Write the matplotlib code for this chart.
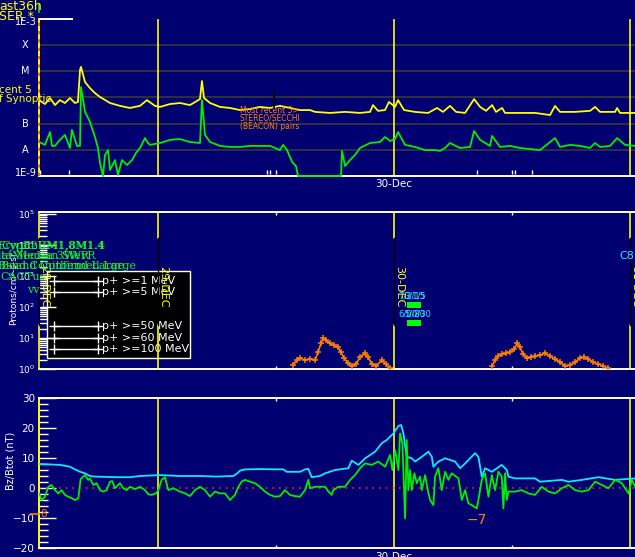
import matplotlib
matplotlib.use('Agg')
import matplotlib.pyplot as plt
import matplotlib.transforms as mtransforms
from matplotlib.patches import Rectangle
from matplotlib.lines import Line2D
import numpy as np

# ---------------- data (time in hours from 29-Dec 00:00) ----------------
t_start, t_end = -12.1, 48.5
day_hours = [0, 24, 48]
day_labels = ['29-DEC', '30-DEC', '31-DEC']
half_day_ticks = [12, 36]

# GOES X-ray, long channel (log10 W/m^2)
xl_t = [-12.10, -11.49, -10.98, -10.47, -9.97, -9.46, -8.95, -8.44, -8.14, -7.93, -7.83, -7.42,
        -6.92, -6.41, -5.90, -4.88, -3.86, -2.85, -1.83, -1.12, -0.31, 0.20, 1.22, 2.24, 3.25,
        4.27, 4.47, 4.68, 5.29, 6.31, 7.32, 8.34, 9.36, 10.37, 11.39, 12.41, 13.42, 14.44, 15.46,
        15.97, 17.49, 19.02, 20.54, 21.56, 21.86, 22.37, 23.08, 23.49, 24.10, 24.41, 25.02, 26.13,
        27.46, 28.37, 28.98, 29.69, 30.31, 31.22, 32.14, 32.75, 33.36, 33.97, 34.37, 34.98, 35.29,
        36.51, 38.34, 39.86, 40.37, 40.88, 42.41, 43.93, 44.44, 44.95, 46.47, 46.68, 46.98, 48.51]
xl_v = [-6.10, -6.25, -6.02, -6.29, -6.10, -6.21, -6.02, -6.21, -6.17, -4.95, -4.83, -5.41,
        -5.64, -5.83, -5.98, -6.21, -6.32, -6.40, -6.32, -6.10, -6.32, -6.36, -6.25, -6.21, -6.29,
        -6.06, -5.37, -6.02, -6.21, -6.36, -6.40, -6.48, -6.44, -6.36, -6.40, -6.32, -6.40, -6.48, -6.48,
        -6.55, -6.59, -6.55, -6.59, -6.55, -6.29, -6.51, -6.48, -6.17, -6.36, -6.10, -6.48, -6.55,
        -6.59, -6.40, -6.55, -6.32, -6.55, -6.59, -6.06, -6.36, -6.51, -6.29, -6.55, -6.40, -6.59,
        -6.59, -6.59, -6.67, -6.32, -6.55, -6.55, -6.51, -6.36, -6.55, -6.55, -6.40, -6.59, -6.59]

# GOES X-ray, short channel (log10 W/m^2)
xs_t = [-12.10, -11.49, -10.98, -10.78, -10.47, -9.97, -9.46, -8.95, -8.75, -8.24, -7.93, -7.83,
        -7.42, -6.92, -6.41, -6.10, -5.90, -5.59, -5.39, -5.08, -4.88, -4.37, -4.07, -3.66, -3.15,
        -2.64, -2.24, -1.83, -1.32, -1.02, -0.81, 0.20, 1.22, 2.24, 3.25, 4.27, 4.47, 4.78, 5.29,
        6.31, 7.32, 8.34, 9.36, 10.37, 11.39, 12.41, 12.71, 13.12, 13.63, 14.03, 14.24, 18.61,
        18.71, 19.02, 19.52, 20.03, 20.54, 21.56, 22.58, 23.08, 23.59, 24.10, 24.41, 25.12, 26.13,
        27.15, 28.17, 28.68, 29.19, 29.69, 30.71, 31.73, 32.14, 32.75, 33.76, 33.97, 34.78, 35.80,
        36.81, 37.83, 38.85, 40.37, 40.88, 41.90, 42.91, 43.93, 44.44, 44.95, 45.97, 46.68, 47.49, 48.51]
xs_v = [-7.70, -7.81, -7.32, -7.85, -7.85, -7.62, -7.43, -7.93, -7.24, -7.85, -7.85, -5.60,
        -6.55, -6.93, -7.51, -7.93, -8.50, -9.00, -8.20, -8.01, -8.77, -8.39, -8.96, -8.39, -8.58,
        -8.39, -8.12, -7.93, -7.55, -7.74, -7.81, -7.74, -7.62, -7.59, -7.70, -7.74, -6.10, -7.43, -7.70,
        -7.85, -7.89, -7.89, -7.85, -7.85, -7.85, -8.01, -7.81, -8.01, -8.46, -8.62, -9.00, -9.00,
        -8.04, -8.62, -8.39, -8.20, -7.93, -7.74, -7.70, -7.51, -7.66, -7.59, -7.32, -7.81, -7.89,
        -8.01, -8.01, -8.04, -7.93, -7.74, -7.93, -7.89, -7.28, -7.62, -7.85, -7.47, -7.89, -7.85,
        -7.93, -7.97, -8.01, -7.55, -7.89, -7.81, -7.85, -7.93, -7.74, -7.89, -7.85, -7.55, -7.81, -7.85]

xray_grid = [1e-8, 1e-7, 1e-6, 1e-5, 1e-4]
xray_labels = ['A', 'B', 'C', 'M', 'X']
flare_marks = [-12.0, -9.05, 11.08, 11.39, 12.0, 32.44, 36.0, 36.3, 38.03]

# Protons >=10 MeV (pfu), two enhancements
p1_t = [13.73, 14.13, 14.44, 14.95, 15.46, 15.97, 16.27, 16.57, 16.78, 17.08, 17.49, 17.90, 18.30,
        18.61, 18.91, 19.32, 19.73, 20.14, 20.54, 21.05, 21.36, 21.76, 22.17, 22.78, 23.19, 23.59]
p1_v = [1.34, 1.93, 2.24, 1.93, 2.10, 1.93, 3.48, 6.7, 9.7, 8.4, 6.7, 5.8, 5.0,
        3.48, 2.24, 1.55, 1.25, 1.44, 2.4, 3.23, 2.4, 1.44, 1.25, 1.93, 1.44, 1.07]
p2_t = [33.97, 34.27, 34.58, 34.98, 35.39, 35.80, 36.20, 36.51, 36.81, 37.12, 37.52, 37.93, 38.34,
        38.85, 39.35, 39.86, 40.37, 40.88, 41.39, 41.90, 42.41, 42.91, 43.32, 43.73, 44.24, 44.75,
        45.25, 45.76]
p2_v = [1.25, 1.93, 2.6, 3.0, 3.23, 3.48, 4.3, 6.7, 5.0, 3.0, 2.24, 2.4, 2.6,
        2.79, 3.23, 2.6, 2.1, 1.67, 1.25, 1.34, 1.67, 2.24, 2.4, 2.1, 1.67, 1.44,
        1.25, 1.07]

legend_labels = ['p+ >=1 MeV', 'p+ >=5 MeV', '', 'p+ >=50 MeV', 'p+ >=60 MeV', 'p+ >=100 MeV']

# IMF Btot and Bz (nT)
bt_t = [-12.07, -9.97, -8.95, -8.44, -7.93, -7.43, -6.92, -6.41, -4.20, -2.85, -1.83, 0.20, 2.24,
        4.27, 5.97, 7.66, 8.07, 8.34, 8.85, 10.37, 12.75, 13.08, 14.44, 14.95, 15.29, 15.46, 15.63,
        16.47, 16.99, 18.00, 19.36, 19.70, 20.38, 21.06, 22.07, 22.75, 23.26, 23.94, 24.45, 24.72,
        24.95, 25.29, 25.80, 26.14, 26.82, 27.50, 27.84, 28.00, 28.51, 29.19, 30.21, 30.72, 31.23,
        32.24, 32.58, 32.92, 33.26, 33.94, 34.95, 35.46, 35.63, 36.31, 38.34, 38.85, 41.06, 41.73,
        43.09, 44.78, 46.48, 48.51]
bt_v = [8.0, 7.7, 7.1, 6.2, 5.4, 4.9, 4.0, 3.8, 3.6, 3.6, 4.0, 4.3, 4.0,
        4.0, 3.8, 4.0, 4.9, 5.8, 6.2, 6.3, 6.2, 5.4, 5.4, 6.2, 6.4, 4.9, 3.6,
        4.0, 4.9, 6.0, 6.6, 9.1, 7.7, 9.9, 12.1, 14.9, 16.0, 18.2, 20.7, 21.0,
        18.2, 10.4, 9.9, 8.8, 10.4, 12.1, 10.4, 7.1, 8.8, 9.9, 8.8, 6.6, 8.2,
        11.6, 10.4, 3.8, 6.6, 5.4, 7.7, 6.0, 3.8, 3.2, 3.2, 2.1, 2.7, 2.1,
        2.7, 3.6, 2.7, 3.2]
bz_t = [-12.07, -11.83, -11.49, -11.15, -10.82, -10.48, -10.14, -9.80, -9.46, -9.12, -8.78, -8.44,
        -8.10, -7.87, -7.43, -7.09, -6.92, -6.58, -6.24, -5.90, -5.56, -5.22, -4.88, -4.65, -4.38,
        -3.87, -3.53, -3.19, -2.85, -2.34, -1.83, -1.32, -0.98, -0.65, -0.21, 0.03, 0.37, 0.71,
        1.05, 1.56, 2.24, 2.75, 3.25, 3.76, 4.27, 4.78, 5.29, 5.80, 6.30, 6.81, 7.32, 7.83, 8.17,
        8.51, 8.85, 9.36, 9.86, 10.37, 10.88, 11.39, 11.90, 12.41, 12.91, 13.42, 13.93, 14.44,
        14.95, 15.29, 15.46, 15.97, 16.99, 17.33, 17.67, 17.83, 18.34, 19.02, 19.53, 20.04, 20.55,
        21.06, 21.73, 22.41, 23.09, 23.60, 23.83, 24.11, 24.45, 24.61, 24.85, 25.12, 25.29, 25.46,
        25.63, 25.80, 26.07, 26.31, 26.65, 26.82, 27.16, 27.50, 27.67, 28.00, 28.17, 28.51, 28.85,
        29.19, 29.53, 29.87, 30.55, 30.89, 31.23, 31.56, 31.90, 32.41, 32.58, 32.92, 33.26, 33.60,
        33.94, 34.28, 34.61, 34.95, 35.12, 35.29, 35.46, 35.63, 36.31, 36.99, 37.67, 38.34, 39.02,
        39.70, 40.38, 41.06, 41.73, 42.41, 43.09, 43.77, 44.45, 45.12, 45.80, 46.48, 47.16, 47.84,
        48.18, 48.51]
bz_v = [-1.8, -4.0, -2.9, 0.4, 1.0, -0.7, -1.8, -0.7, -2.3, -2.9, -3.4, -4.0,
        -3.4, 2.9, 4.3, 2.7, 3.2, 1.0, 1.6, -0.7, -1.2, -0.7, 2.1, 2.3, -0.1,
        1.6, -0.1, -0.7, 0.4, -0.4, 0.4, -0.7, -2.1, -2.3, -1.8, -0.7, 2.7, 3.6,
        -0.7, -0.1, -1.2, -1.8, -2.7, -0.7, 0.4, -0.7, -2.9, -1.2, -1.8, -1.8, -4.0, -2.3, 0.4,
        2.1, 2.7, 2.1, 1.6, 0.4, -1.2, -2.3, -2.9, -2.7, -0.7, -2.3, -2.7, -2.9,
        -0.7, 2.7, -0.1, 0.4, 0.4, -1.2, -2.3, -0.7, 0.4, 0.4, 2.7, 4.3, 6.6,
        8.2, 7.7, 8.8, 7.1, 11.0, 6.0, 12.7, 6.0, 18.2, 14.9, -10.1, 16.0, -0.7,
        6.0, -0.7, 4.9, 1.6, 3.8, -0.7, 4.3, -1.8, -4.0, -5.7, 3.8, 6.6, -0.7,
        5.4, 2.7, 4.9, 3.2, -4.0, -0.7, -5.1, -5.7, -6.8, -4.0, 2.7, 4.9, -2.9,
        4.3, -0.7, 5.4, 3.8, -6.8, 4.9, -4.0, -1.2, -1.2, -0.7, -1.8, -2.3, 0.4,
        -1.2, -1.8, -0.1, 1.0, -0.7, -1.2, -0.7, 2.1, 1.0, -0.1, 2.7, 1.6, -1.8,
        2.7, 0.4]

# ---------------- style ----------------
W, H = 635, 557
BG = '#000070'
YEL = '#ffff00'
GRN = '#00ee00'
CYA = '#10e8f8'
ORG = '#ff8000'
WHT = 'white'
plt.rcParams['font.family'] = ['DejaVu Sans']

fig = plt.figure(figsize=(W / 100, H / 100), dpi=100, facecolor=BG)


def px_axes(l, t, r, b):
    ax = fig.add_axes([l / W, 1 - b / H, (r - l) / W, (b - t) / H])
    ax.set_facecolor('none')
    ax.set_xlim(t_start, t_end)
    return ax


def ftext(x, y, s, **kw):
    return fig.text(x / W, 1 - y / H, s, **kw)


def fline(xs, ys, **kw):
    fig.add_artist(Line2D([x / W for x in xs], [1 - y / H for y in ys],
                          transform=fig.transFigure, **kw))


# ================= Panel 1: X-rays =================
ax1 = px_axes(39, 19, 635, 176)
ax1.set_yscale('log')
ax1.set_ylim(1e-9, 1e-3)
for s in ['top', 'right']:
    ax1.spines[s].set_visible(False)
ax1.spines['left'].set_color(YEL)
ax1.spines['left'].set_linewidth(1.4)
ax1.spines['bottom'].set_color(WHT)
ax1.spines['bottom'].set_linewidth(1.4)
ax1.set_xticks([])
ax1.set_yticks([])
ax1.minorticks_off()
for g in xray_grid:
    ax1.axhline(g, color='#383838', lw=1.2, zorder=1)
for d in day_hours:
    ax1.axvline(d, color=YEL, lw=1.2, zorder=2)
ax1.plot([t_start, t_start], [1e-9, 1e-3], color='#ff5000', lw=1.2, ls=(0, (2, 3)),
         clip_on=False, zorder=5)
ax1.plot([t_start, -8.7], [1e-3, 1e-3], color=WHT, lw=1.4, clip_on=False)
ax1.plot(xl_t, 10 ** np.array(xl_v), color=YEL, lw=1.3, zorder=3)
ax1.plot(xs_t, 10 ** np.array(xs_v), color=GRN, lw=1.3, zorder=4, clip_on=False)
ax1.vlines(flare_marks, 10 ** -8.92, 10 ** -8.77, color=WHT, lw=1.0)
ax1.plot([11.8, 11.8], [10 ** -5.75, 10 ** -6.40], color='black', lw=1.2, zorder=4)
ax1.text(8.3, 10 ** -6.48, 'Most recent 5>', color=ORG, fontsize=5.5, va='center')
ax1.text(8.3, 10 ** -6.80, 'STEREO/SECCHI', color=ORG, fontsize=5.5, va='center')
ax1.text(8.3, 10 ** -7.10, '(BEACON) pairs', color=ORG, fontsize=5.5, va='center')

for g, lab in zip(xray_grid, xray_labels):
    if lab == 'C':
        continue
    y = 19 + (-3 - np.log10(g)) * 26.17
    ftext(25, y, lab, color=WHT, fontsize=7, ha='center', va='center')
ftext(37, 22, '1E-3', color=WHT, fontsize=7, ha='right', va='center')
ftext(37, 173, '1E-9', color=WHT, fontsize=7, ha='right', va='center')
ftext(394, 184, '30-Dec', color=WHT, fontsize=7.5, ha='center', va='center')
ftext(-1, 6, 'ast36h', color=YEL, fontsize=9, ha='left', va='center')
ftext(-1, 16, 'SER *', color=YEL, fontsize=9, ha='left', va='center')
ftext(-1, 90, 'cent 5', color=YEL, fontsize=7.5, ha='left', va='center')
ftext(-1, 99, 'f Synoptic', color=YEL, fontsize=7.5, ha='left', va='center')
fline([39, 39], [5, 12], color=GRN, lw=1.2)

# ================= Panel 2: Protons =================
ax2 = px_axes(39, 212, 635, 369)
ax2.set_yscale('log')
ax2.set_ylim(1, 10 ** 5.06)
ax2.spines['right'].set_visible(False)
ax2.spines['left'].set_visible(False)
for s in ['top', 'bottom']:
    ax2.spines[s].set_color(WHT)
    ax2.spines[s].set_linewidth(1.4)
ax2.set_yticks([1, 10, 100, 1e3, 1e4, 1e5])
ax2.set_yticklabels(['$10^{%d}$' % i for i in range(6)])
ax2.yaxis.set_minor_locator(matplotlib.ticker.LogLocator(base=10, subs=np.arange(2, 10)))
ax2.yaxis.set_minor_formatter(matplotlib.ticker.NullFormatter())
ax2.tick_params(axis='y', which='major', direction='in', length=12, width=1.0, color=WHT,
                labelcolor=WHT, labelsize=6.5, pad=3)
ax2.tick_params(axis='y', which='minor', direction='in', length=6, width=1.0, color=WHT)
ax2.set_xticks(half_day_ticks)
ax2.set_xticklabels([])
ax2.tick_params(axis='x', direction='in', length=2, width=1, color=WHT, top=True, bottom=True)

blend2 = mtransforms.blended_transform_factory(ax2.transData, ax2.transAxes)
gap_lo, gap_hi = (369 - 325) / 157, (369 - 238) / 157
for d, lab in zip([t_start] + day_hours, ['28-DEC'] + day_labels):
    ax2.plot([d, d], [0, gap_lo], color=YEL, lw=1.2, transform=blend2, zorder=3, clip_on=False)
    ax2.plot([d, d], [gap_hi, 1], color=YEL, lw=1.2, transform=blend2, zorder=3, clip_on=False)
    ax2.plot([d, d], [gap_lo, gap_hi], color='black', lw=1.0, transform=blend2, zorder=3, clip_on=False)
    ax2.text(d, (369 - 286.5) / 157, lab, rotation=-90, color=YEL, fontsize=8, ha='left',
             va='center', transform=blend2, zorder=3, clip_on=False)

ax2.plot(p1_t, p1_v, color=ORG, lw=1.2, marker='+', ms=5, mew=1.1, zorder=4)
ax2.plot(p2_t, p2_v, color=ORG, lw=1.2, marker='+', ms=5, mew=1.1, zorder=4)

# legend box
ax2.add_patch(Rectangle((47 / W, 1 - 358 / H), 143 / W, 87 / H, transform=fig.transFigure,
                        facecolor='black', edgecolor=WHT, lw=1.0, zorder=1, clip_on=False))
for lab, y in zip(legend_labels, [281, 292, 309, 326, 338, 349]):
    if not lab:
        continue
    ax2.plot([54 / W, 98 / W], [1 - y / H, 1 - y / H], transform=fig.transFigure, color=WHT,
             lw=1.0, marker='+', ms=7, mew=1.0, zorder=2, clip_on=False)
    ax2.text(102 / W, 1 - y / H, lab, transform=fig.transFigure, color=WHT, fontsize=8,
             va='center', ha='left', zorder=2)

ftext(13, 288, 'Protons/cm\u00b2-s-sr', color=WHT, fontsize=6.5, rotation=90, ha='center', va='center')

gfont = dict(color='#20f020', fontsize=8, family='DejaVu Serif', va='center', ha='left')
ftext(-3, 246, 'Erwpl2UM1,8M1.4', **gfont)
ftext(1, 246, 'CypRoRM1,8M1.4', **gfont)
ftext(-2, 256, 'lat Median SWvR', **gfont)
ftext(1, 256, 'taMeciaa 3WeR', **gfont)
ftext(-2, 266, 'Bsnd Conitbend Large', **gfont)
ftext(1, 266, 'Beand Confirmed Large', **gfont)
ftext(0, 277, 'CACTus', **gfont)
ftext(27, 290, 'vv', **gfont)

cfont = dict(color='#30e0ff', fontsize=6, va='center', ha='left')
ftext(398, 296, '7/2/15', **cfont)
ftext(404, 296, '3/1/5', **cfont)
ftext(398, 314, '6/0/80', **cfont)
ftext(404, 314, '5/0/30', **cfont)
ftext(619, 256, 'C8', color='#30e0ff', fontsize=8, va='center', ha='left')
ax2.add_patch(Rectangle((407 / W, 1 - 308 / H), 14 / W, 6 / H, transform=fig.transFigure,
                        facecolor='#00ff00', edgecolor='none', zorder=5, clip_on=False))
ax2.add_patch(Rectangle((407 / W, 1 - 326 / H), 14 / W, 6 / H, transform=fig.transFigure,
                        facecolor='#00ff00', edgecolor='none', zorder=5, clip_on=False))

# ================= Panel 3: IMF =================
ax3 = px_axes(39, 398, 635, 548)
ax3.set_ylim(-20, 30)
ax3.spines['right'].set_visible(False)
ax3.spines['left'].set_color(YEL)
ax3.spines['left'].set_linewidth(1.4)
for s in ['top', 'bottom']:
    ax3.spines[s].set_color(WHT)
    ax3.spines[s].set_linewidth(1.4)
ax3.set_yticks([-20, -10, 0, 10, 20, 30])
ax3.yaxis.set_minor_locator(matplotlib.ticker.MultipleLocator(2))
ax3.tick_params(axis='y', which='major', direction='in', length=12, width=1.0, color=WHT,
                labelcolor=WHT, labelsize=7.5, pad=3)
ax3.tick_params(axis='y', which='minor', direction='in', length=6.5, width=1.0, color=WHT)
ax3.set_xticks(half_day_ticks)
ax3.set_xticklabels([])
ax3.tick_params(axis='x', direction='in', length=2, width=1, color=WHT, top=True, bottom=True)
for d in day_hours:
    ax3.axvline(d, color=YEL, lw=1.2, zorder=2)
ax3.axhline(0, color='#ff2020', lw=1.2, ls=(0, (1, 3)), zorder=2)
ax3.plot(bt_t, bt_v, color=CYA, lw=1.3, zorder=3)
ax3.plot(bz_t, bz_v, color=GRN, lw=1.3, zorder=4)

ftext(11, 461, 'Bz/Btot (nT)', color=WHT, fontsize=7, rotation=90, ha='center', va='center')
fline([31, 39], [514, 514], color=ORG, lw=1.2)
ftext(44, 514, '8', color=ORG, fontsize=7.5, ha='center', va='center')
ftext(477, 520, '\u22127', color=ORG, fontsize=10, ha='center', va='center')
ftext(394, 552, '30-Dec', color=WHT, fontsize=7.5, ha='center', va='top')

fig.savefig('out.png', dpi=100, facecolor=BG)
